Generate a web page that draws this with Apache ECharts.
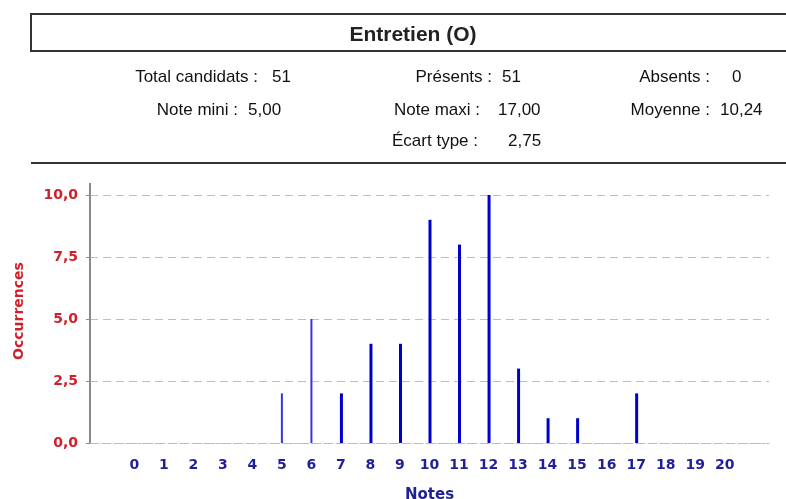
<!DOCTYPE html>
<html>
<head>
<meta charset="utf-8">
<script src="https://cdn.jsdelivr.net/npm/echarts@6/dist/echarts.min.js"></script>
<style>
html,body{margin:0;padding:0;background:#fff;}
#chart{width:786px;height:499px;}
</style>
</head>
<body>
<div id="chart"></div>
<script>
// ---- data ----
var notes = ['0','1','2','3','4','5','6','7','8','9','10','11','12','13','14','15','16','17','18','19','20'];
var occurrences = [0,0,0,0,0,2,5,2,4,4,9,8,10,3,1,1,0,2,0,0,0];
var thinNotes = ['5','6'];
var yTicks = [0, 2.5, 5, 7.5, 10];
var title = 'Entretien (O)';
var statLabels = ['Total candidats :', 'Présents :', 'Absents :', 'Note mini :', 'Note maxi :', 'Moyenne :', 'Écart type :'];
var statValues = ['51', '51', '0', '5,00', '17,00', '10,24', '2,75'];

// ---- build ----
var cats = [''].concat(notes).concat(['']);
var thick = [null], thin = [null];
notes.forEach(function (n, i) {
  var isThin = thinNotes.indexOf(n) >= 0;
  thick.push(isThin ? null : occurrences[i]);
  thin.push(isThin ? occurrences[i] : null);
});
thick.push(null); thin.push(null);

var statPos = [
  [258, 77, 272], [492, 77, 502], [710, 77, 732],
  [238, 110, 248], [480, 110, 498], [710, 110, 720],
  [478, 141, 508]
];
var statFont = '17px "Liberation Sans", Arial, sans-serif';
var graphics = [
  { type: 'rect', shape: { x: 31, y: 14, width: 770, height: 37 }, style: { fill: 'none', stroke: '#333', lineWidth: 2 } },
  { type: 'text', x: 413, y: 35, style: { text: title, font: 'bold 21px "Liberation Sans", Arial, sans-serif', fill: '#222', textAlign: 'center', textVerticalAlign: 'middle' } },
  { type: 'line', shape: { x1: 31, y1: 163, x2: 786, y2: 163 }, style: { stroke: '#333', lineWidth: 2 } },
  { type: 'line', shape: { x1: 90, y1: 183, x2: 90, y2: 196 }, style: { stroke: '#8a8a8a', lineWidth: 2 } }
];
statLabels.forEach(function (l, i) {
  var p = statPos[i];
  graphics.push({ type: 'text', x: p[0], y: p[1], style: { text: l, font: statFont, fill: '#111', textAlign: 'right', textVerticalAlign: 'middle' } });
  graphics.push({ type: 'text', x: p[2], y: p[1], style: { text: statValues[i], font: statFont, fill: '#111', textAlign: 'left', textVerticalAlign: 'middle' } });
});

var chart = echarts.init(document.getElementById('chart'), null, { renderer: 'canvas' });
chart.setOption({
  animation: false,
  backgroundColor: '#fff',
  grid: { left: 90, right: 17, top: 195, bottom: 56, containLabel: false, outerBoundsMode: 'none' },
  xAxis: {
    type: 'category',
    data: cats,
    name: 'Notes',
    nameLocation: 'middle',
    nameGap: 45,
    nameTextStyle: { color: '#1f1f99', fontWeight: 'bold', fontSize: 15, fontFamily: 'DejaVu Sans' },
    axisLine: { lineStyle: { color: '#bcbcbc', type: [3, 3], width: 1 } },
    axisTick: { show: false },
    axisLabel: { color: '#1f1f99', fontWeight: 'bold', fontSize: 14, fontFamily: 'DejaVu Sans', margin: 15, interval: 0 }
  },
  yAxis: {
    type: 'value',
    min: yTicks[0],
    max: yTicks[yTicks.length - 1],
    interval: yTicks[1] - yTicks[0],
    name: 'Occurrences',
    nameLocation: 'middle',
    nameRotate: 90,
    nameGap: 64,
    nameTextStyle: { color: '#d0202a', fontWeight: 'bold', fontSize: 14, fontFamily: 'DejaVu Sans', padding: [0, 0, 0, 16] },
    axisLine: { show: true, lineStyle: { color: '#8a8a8a', width: 2 } },
    axisTick: { show: true, length: 4, lineStyle: { color: '#8a8a8a' } },
    axisLabel: {
      color: '#d0202a', fontWeight: 'bold', fontSize: 14, fontFamily: 'DejaVu Sans', margin: 12,
      formatter: function (v) { return v.toFixed(1).replace('.', ','); }
    },
    splitLine: { lineStyle: { color: '#bdbdbd', type: [8, 5], width: 1 } }
  },
  series: [
    { type: 'bar', data: thick, barWidth: 3, barGap: '-100%', itemStyle: { color: '#0000cc' } },
    { type: 'bar', data: thin, barWidth: 2, barGap: '-100%', itemStyle: { color: '#3535e0' } }
  ],
  graphic: graphics
});
</script>
</body>
</html>
